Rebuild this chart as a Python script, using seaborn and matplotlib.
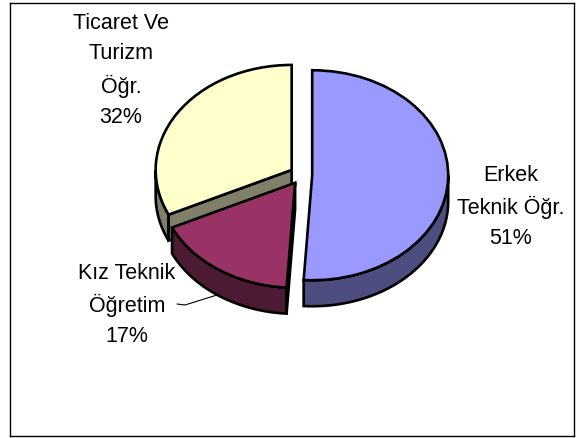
import matplotlib
matplotlib.use("Agg")
import matplotlib.pyplot as plt
import numpy as np
import seaborn as sns

# chart data, clockwise from 12 o'clock
categories = ["Erkek\nTeknik Öğr.", "Kız Teknik\nÖğretim", "Ticaret Ve\nTurizm\nÖğr."]
shares = [51, 17, 32]

top_colors = ["#9999FF", "#993366", "#FFFFCC"]
wall_colors = ["#4D4D80", "#4D1A33", "#80806A"]
face_colors = [None, "#000000", "#80806A"]

W, H = 584, 438
FRAME = (10, 3, 574, 436)  # left, top, right, bottom in pixels
CX, CY = 302, 175
RX, RY = 136, 105
DEPTH = 26 / RY
EDGE = 1.9

sns.set_theme(style="white")
plt.rcParams["font.family"] = ["Liberation Sans", "DejaVu Sans"]

fig = plt.figure(figsize=(W / 100, H / 100), dpi=100)
ax = fig.add_axes([
    FRAME[0] / W, 1 - FRAME[3] / H,
    (FRAME[2] - FRAME[0]) / W, (FRAME[3] - FRAME[1]) / H,
])

wedges, _ = ax.pie(
    shares,
    explode=[0.075, 0.09, 0.09],
    colors=top_colors,
    startangle=90,
    counterclock=False,
    wedgeprops={"edgecolor": "black", "linewidth": EDGE, "zorder": 3},
)

# the pie is squashed into an ellipse, one data unit = RX by RY pixels
ax.set_aspect("auto")
ax.set_xlim((FRAME[0] - CX) / RX, (FRAME[2] - CX) / RX)
ax.set_ylim((CY - FRAME[3]) / RY, (CY - FRAME[1]) / RY)

# extrude the lower rim and the cut faces to fake the 3d look
draw_order = [2, 1, 0]
for z, i in enumerate(draw_order):
    w = wedges[i]
    x0, y0 = w.center
    lo, hi = max(w.theta1, -180), min(w.theta2, 0)
    t = np.radians(np.linspace(lo, hi, 80))
    xs = x0 + w.r * np.cos(t)
    ys = y0 + w.r * np.sin(t)
    ax.fill(
        np.r_[xs, xs[::-1]], np.r_[ys, ys[::-1] - DEPTH],
        facecolor=wall_colors[i], edgecolor="black", linewidth=EDGE, zorder=1 + z * 0.1,
    )
    if face_colors[i]:
        rim = np.radians(w.theta2)
        fx = [x0, x0 + w.r * np.cos(rim)]
        fy = [y0, y0 + w.r * np.sin(rim)]
        ax.fill(
            fx + fx[::-1], fy + [v - DEPTH for v in fy[::-1]],
            facecolor=face_colors[i], edgecolor="black", linewidth=EDGE, zorder=1.05 + z * 0.1,
        )

label_pos = [(511, 207), (127, 305), (121, 70.5)]
for name, share, (px, py) in zip(categories, shares, label_pos):
    ax.text(
        (px - CX) / RX, (CY - py) / RY, f"{name}\n{share}%",
        ha="center", va="center", fontsize=15.5, linespacing=1.57, color="black",
    )

# leader line of the small slice
ax.plot(
    [(177 - CX) / RX, (185 - CX) / RX, (217 - CX) / RX],
    [(CY - 304) / RY, (CY - 305) / RY, (CY - 295) / RY],
    color="black", linewidth=0.8, zorder=2,
)

ax.set_frame_on(True)
for s in ax.spines.values():
    s.set_color("black")
    s.set_linewidth(1.0)

fig.savefig("out.png", dpi=100, facecolor="white")
